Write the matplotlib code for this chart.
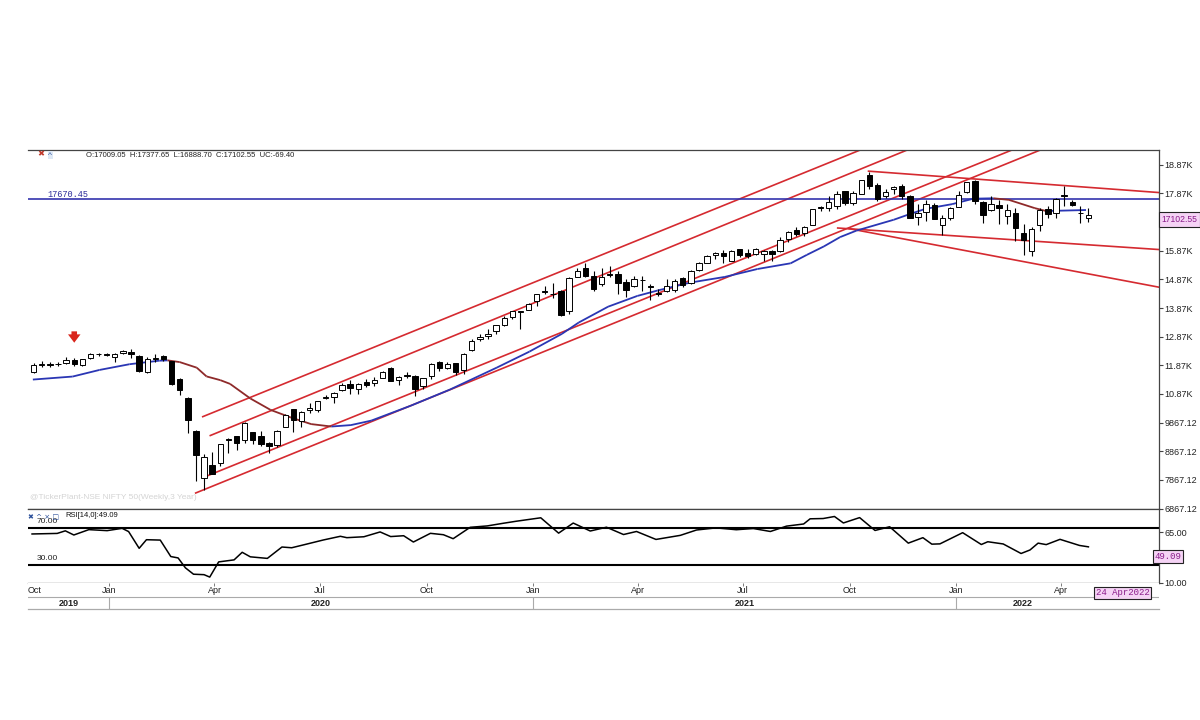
import matplotlib
matplotlib.use("Agg")
import matplotlib.pyplot as plt
import matplotlib.transforms as mtransforms
from matplotlib.collections import LineCollection
import numpy as np
import pandas as pd

plt.rcParams['font.family'] = ['Liberation Sans', 'DejaVu Sans']

# weekly NIFTY 50 candles, first bar = week of 28 Oct 2019
first_week = "2019-10-28"
opens = [11627, 11886, 11915, 11916, 11934, 12067, 11870, 12133, 12273, 12274,
         12170, 12296, 12328, 12197, 11627, 12102, 12190, 12012, 11388, 10743,
         9588, 7945, 8385, 8446, 9303, 9390, 9259, 9533, 9384, 9158,
         9100, 9726, 10326, 9919, 10318, 10311, 10723, 10766, 10999, 11225,
         11057, 11270, 11249, 11437, 11777, 11359, 11540, 11503, 11140, 11487,
         11973, 11786, 11937, 11697, 12399, 12780, 12906, 13062, 13265, 13547,
         13742, 13815, 14104, 14474, 14371, 14477, 13759, 14962, 15271, 14998,
         14702, 15064, 15067, 14794, 14637, 14837, 14644, 14402, 14449, 14481,
         14928, 14756, 15211, 15437, 15725, 15791, 15525, 15915, 15794, 15766,
         15754, 15842, 15874, 16288, 16590, 16475, 16775, 17400, 17363, 17443,
         17940, 17531, 17867, 18500, 18148, 17783, 18040, 18140, 17796, 17055,
         17209, 17474, 16773, 17000, 17388, 17913, 18309, 17575, 17301, 17456,
         17076, 17193, 16481, 15867, 16757, 17329, 17181, 17810, 17584, 17183,
         17009.05]
highs = [11945, 12034, 11973, 11974, 12159, 12120, 12098, 12294, 12287, 12311,
         12311, 12389, 12431, 12212, 12160, 12246, 12225, 12012, 11433, 10751,
         9602, 8777, 8838, 9131, 9324, 9390, 9890, 9533, 9584, 9178,
         9598, 10178, 10328, 10272, 10554, 10632, 10848, 10934, 11239, 11341,
         11256, 11374, 11460, 11686, 11794, 11493, 11618, 11535, 11428, 11939,
         12025, 11980, 11940, 12290, 12770, 12963, 13146, 13280, 13579, 13773,
         13777, 14050, 14368, 14654, 14754, 14491, 14966, 15257, 15432, 15176,
         15274, 15336, 15163, 14878, 14985, 14984, 14697, 14527, 14895, 14892,
         14966, 15190, 15470, 15733, 15835, 15901, 15903, 15915, 15915, 15962,
         15882, 15899, 16350, 16543, 16702, 16722, 17340, 17430, 17793, 17947,
         17948, 17941, 18351, 18604, 18241, 18017, 18123, 18210, 17806, 17489,
         17639, 17551, 17118, 17400, 17944, 18286, 18351, 17600, 17794, 17639,
         17491, 17351, 16815, 16694, 17345, 17442, 17703, 18115, 17651, 17414,
         17377.65]
lows = [11600, 11802, 11802, 11836, 11919, 11832, 11832, 12082, 12192, 12185,
        11974, 12278, 12130, 11634, 11614, 11990, 12012, 11175, 10827, 9508,
        7832, 7511, 8055, 8360, 8822, 8910, 9165, 9117, 9043, 8807,
        9004, 9706, 9545, 9727, 10194, 10224, 10676, 10562, 10985, 10882,
        10882, 11112, 11144, 11409, 11303, 11185, 11441, 10790, 11051, 11386,
        11661, 11741, 11535, 11557, 12368, 12730, 12790, 12963, 13241, 13500,
        13131, 13788, 13954, 14357, 14223, 13597, 13662, 14951, 14935, 14467,
        14635, 14954, 14350, 14264, 14617, 14459, 14151, 14273, 14416, 14417,
        14592, 14698, 15163, 15424, 15566, 15450, 15525, 15636, 15632, 15707,
        15514, 15514, 15834, 16162, 16395, 16395, 16764, 17254, 17269, 17327,
        17452, 17452, 17865, 18034, 17613, 17697, 17836, 17688, 17026, 16782,
        16891, 16966, 16410, 16950, 17384, 17880, 17485, 16837, 17244, 16809,
        16811, 16203, 15711, 15671, 16556, 17006, 17004, 17423, 17443, 16825,
        16888.70]
closes = [11890, 11908, 11895, 11914, 12056, 11922, 12086, 12272, 12246, 12226,
          12257, 12352, 12248, 11662, 12098, 12113, 12081, 11202, 10990, 9955,
          8745, 8660, 8084, 9112, 9267, 9154, 9860, 9252, 9137, 9040,
          9580, 10142, 9973, 10244, 10383, 10608, 10768, 10902, 11194, 11073,
          11214, 11178, 11372, 11647, 11333, 11464, 11505, 11050, 11417, 11914,
          11762, 11930, 11642, 12264, 12720, 12860, 12969, 13259, 13514, 13761,
          13749, 14018, 14347, 14434, 14372, 13635, 14924, 15163, 14982, 14529,
          14938, 15031, 14744, 14507, 14867, 14835, 14617, 14341, 14631, 14823,
          14678, 15175, 15436, 15670, 15799, 15683, 15860, 15722, 15690, 15924,
          15856, 15763, 16238, 16529, 16451, 16705, 17324, 17369, 17585, 17853,
          17532, 17895, 18338, 18115, 17672, 17917, 18103, 17765, 17026, 17197,
          17511, 16985, 17004, 17354, 17813, 18256, 17617, 17102, 17516, 17375,
          17276, 16658, 16245, 16630, 17287, 17153, 17670.45, 17784, 17476, 17171.95,
          17102.55]

# moving average (week index, value)
ma_week = [-0.1, 4.8, 8.1, 11.8, 15.5, 16.5, 18.0, 20.1, 21.3, 23.0, 24.2, 26.7,
           29.2, 31.7, 34.2, 36.7, 39.1, 41.6, 46.5, 51.3, 57.1, 61.1, 65.1, 67.2,
           70.8, 74.4, 76.9, 80.9, 85.2, 89.2, 93.3, 95.3, 97.4, 99.4, 101.4, 106.0,
           107.9, 109.9, 113.2, 115.8, 118.3, 120.2, 123.4, 124.8, 129.7]
ma_value = [11370, 11475, 11705, 11905, 12030, 12040, 11980, 11785, 11480, 11350, 11220, 10710,
            10310, 10045, 9815, 9730, 9780, 9935, 10460, 11020, 11790, 12345, 12965, 13365,
            13915, 14290, 14480, 14755, 14955, 15230, 15430, 15725, 16020, 16345, 16570, 16950,
            17140, 17330, 17495, 17685, 17700, 17645, 17355, 17255, 17290]

# RSI(14)
rsi_week = [-0.2, 2.9, 3.9, 4.95, 6.8, 9.05, 10.9, 11.7, 13.0, 13.9, 15.6, 16.9, 17.8,
            18.7, 19.7, 21.0, 21.7, 22.8, 24.7, 25.7, 26.7, 28.8, 30.6, 31.8, 33.3,
            35.7, 37.8, 38.6, 40.7, 42.7, 44.0, 45.6, 46.8, 48.9, 50.5, 51.7, 53.8,
            55.9, 57.9, 59.5, 62.5, 64.7, 66.5, 68.6, 70.6, 72.7, 74.3, 76.7, 79.7,
            81.7, 84.1, 86.6, 88.7, 90.8, 92.8, 94.9, 95.7, 97.3, 98.7, 99.8, 101.8,
            103.7, 105.5, 107.8, 109.6, 110.7, 111.7, 114.5, 116.8, 117.6, 119.5,
            121.7, 122.8, 123.8, 124.8, 126.5, 128.9, 130.0]
rsi_value = [63.0, 63.6, 66.4, 61.9, 67.7, 66.6, 69.1, 65.6, 47.5, 56.8, 56.4, 38.6, 37.1,
             26.4, 19.5, 19.0, 16.4, 32.8, 35.0, 43.2, 38.3, 36.6, 48.9, 48.1, 51.3,
             56.5, 60.5, 59.0, 60.0, 65.2, 60.2, 61.1, 54.3, 63.7, 62.2, 57.9, 70.2,
             71.7, 74.6, 76.8, 80.5, 63.9, 74.8, 66.2, 70.3, 62.4, 65.7, 57.1, 61.5,
             67.3, 69.6, 67.6, 68.9, 65.7, 71.5, 73.8, 79.4, 79.7, 81.9, 74.9, 80.7,
             66.8, 70.8, 53.1, 59.0, 52.0, 52.3, 64.4, 51.6, 54.6, 52.2,
             41.9, 45.7, 53.1, 51.5, 57.2, 50.6, 49.09]

# red trend lines: start week, start price, end week, end price
trend_x0 = [20.84, 21.77, 21.15, 19.97, 102.9, 99.1, 100.5]
trend_y0 = [10074, 9416, 7979, 7409, 18647, 16662, 16640]
trend_x1 = [102.0, 108.0, 120.7, 124.2, 138.7, 138.7, 138.7]
trend_y1 = [19400, 19425, 19400, 19400, 17900, 15910, 14595]

level = 17670.45
rsi_levels = [70, 30]
price_ticks = [6867.12 + 1000 * k for k in range(13)]

weeks = np.arange(len(closes))
o = np.array(opens, float)
c = np.array(closes, float)
up = c >= o
mono = ['Liberation Mono', 'DejaVu Sans Mono']

fig = plt.figure(figsize=(12, 7.2), dpi=100)
fig.patch.set_facecolor("white")
L, R = 28 / 1200, 1159 / 1200
ax = fig.add_axes([L, 1 - 509 / 720, R - L, (509 - 150) / 720])
rax = fig.add_axes([L, 1 - 583 / 720, R - L, (583 - 509) / 720])
tax = fig.add_axes([L, 1 - 609 / 720, R - L, (609 - 583) / 720])
xlim = (-0.7, 138.7)
for a in (ax, rax, tax):
    a.set_xlim(*xlim)
    a.set_xticks([])
    a.spines['left'].set_visible(False)
    for s in ('top', 'right', 'bottom'):
        a.spines[s].set_color('#444')
        a.spines[s].set_linewidth(0.9)

# --- price panel
ax.set_ylim(6850, 19386)
ax.vlines(weeks, lows, highs, color='black', lw=0.8, zorder=4)
ax.bar(weeks, np.abs(c - o), bottom=np.minimum(o, c), width=0.66,
       color=np.where(up, 'white', 'black'), edgecolor='black', lw=0.7, zorder=5)

for x0, y0, x1, y1 in zip(trend_x0, trend_y0, trend_x1, trend_y1):
    ax.plot([x0, x1], [y0, y1], color='#d52a30', lw=1.2, zorder=2)

ax.axhline(level, color='#3434ae', lw=1.2, zorder=2)
ax.text(1.7, level, f"{level:.2f}", color='#2d2d9a', fontsize=6.2, family=mono, va='bottom')

pts = np.column_stack([ma_week, ma_value]).reshape(-1, 1, 2)
segs = np.concatenate([pts[:-1], pts[1:]], axis=1)
ma_cols = ['#2a36b4' if b >= a else '#8e2a2a' for a, b in zip(ma_value[:-1], ma_value[1:])]
ax.add_collection(LineCollection(segs, colors=ma_cols, linewidth=1.3, zorder=3))

ax.annotate('', xy=(5, 12560), xytext=(5, 13150),
            arrowprops=dict(arrowstyle='simple,head_length=0.6,head_width=0.9,tail_width=0.4',
                            fc='#d9261c', ec='none', mutation_scale=10))

# the 16.87K label sits under the last-close box, as on the original
tick_labels = [f"{v:.2f}" if v < 10000 else f"{v / 1000:.2f}K" for v in price_ticks]
tick_labels[10] = ''
ax.yaxis.tick_right()
ax.set_yticks(price_ticks)
ax.set_yticklabels(tick_labels)
ax.tick_params(axis='y', labelsize=6.5, length=3, color='#444', labelcolor='#222', pad=1)

hdr = (f"O:{opens[-1]:.2f}  H:{highs[-1]:.2f}  L:{lows[-1]:.2f}  "
       f"C:{closes[-1]:.2f}  UC:{closes[-1] - closes[-2]:.2f}")
ax.text(0.051, 0.986, hdr, transform=ax.transAxes, fontsize=5.5, va='center', color='#222')
ax.text(0.008, 0.986, '✖', transform=ax.transAxes, fontsize=6, va='center', color='#c0392b')
ax.text(0.018, 0.986, '^', transform=ax.transAxes, fontsize=6, va='center', color='#2a4f9a',
        bbox=dict(boxstyle='square,pad=0.1', fc='#dde8f5', ec='none'))
ax.text(0.002, 0.033, '@TickerPlant-NSE NIFTY 50(Weekly,3 Year)', transform=ax.transAxes,
        fontsize=6, color='#d4d4d4', va='center')

bt = mtransforms.blended_transform_factory(ax.transAxes, ax.transData)
ax.annotate(f"{closes[-1]:.2f}", xy=(1.002, closes[-1]), xycoords=bt,
            xytext=(0, -3), textcoords='offset points', fontsize=6.2, va='center',
            color='#8a1c8a', annotation_clip=False, zorder=10,
            bbox=dict(boxstyle='square,pad=0.3', fc='#f5d3f5', ec='#222', lw=0.8))

# --- RSI panel
rax.set_ylim(10, 90)
rax.plot(rsi_week, rsi_value, color='black', lw=1.1, zorder=3)
rlt = mtransforms.blended_transform_factory(rax.transAxes, rax.transData)
for lv in rsi_levels:
    rax.axhline(lv, color='black', lw=1.5, zorder=2)
    rax.text(0.008, lv + 2.5, f"{lv:.2f}", transform=rlt, fontsize=6, va='bottom', color='#222')
rax.yaxis.tick_right()
rax.set_yticks([65, 10])
rax.set_yticklabels(['65.00', '10.00'])
rax.tick_params(axis='y', labelsize=6.5, length=3, color='#444', labelcolor='#222', pad=1)
rax.text(0.033, 0.91, f"RSI[14,0]:{rsi_value[-1]:.2f}", transform=rax.transAxes,
         fontsize=5.5, va='center', color='#111')
rax.text(0.0, 0.91, '✖ ^ × □', transform=rax.transAxes, fontsize=5, va='center',
         color='#2a4f9a', family=['DejaVu Sans'])
rax.annotate(f"{rsi_value[-1]:.2f}", xy=(0.996, rsi_value[-1]), xycoords=rlt,
             xytext=(0, -7), textcoords='offset points', fontsize=6.5, va='center',
             family=mono, color='#8a1c8a', zorder=10,
             bbox=dict(boxstyle='square,pad=0.2', fc='#f5d3f5', ec='#222', lw=0.8))

# --- time axis
tax.set_ylim(0, 1)
tax.set_yticks([])
tax.spines['top'].set_visible(False)
tax.spines['right'].set_visible(False)
tax.spines['bottom'].set_color('#aaaaaa')
start = pd.Timestamp(first_week)
month_starts = pd.date_range("2020-01-01", "2022-04-01", freq="QS")
month_pos = (month_starts - start).days / 7
for p, lab in zip(month_pos, month_starts.strftime('%b')):
    tax.text(p, 0.73, lab, ha='center', va='center', fontsize=6.5, color='#222')
tax.vlines(month_pos, 0.88, 1.0, color='#666', lw=0.6)
tax.text(xlim[0], 0.73, 'Oct', ha='left', va='center', fontsize=6.5, color='#222')
tax.axhline(0.46, color='#aaaaaa', lw=0.8)
jan_pos = [(pd.Timestamp(f"{y}-01-01") - start).days / 7 for y in (2020, 2021, 2022)]
tax.vlines(jan_pos, 0, 0.46, color='#aaaaaa', lw=0.8)
edges = [xlim[0]] + jan_pos + [weeks[-1]]
for yr, a, b in zip(['2019', '2020', '2021', '2022'], edges[:-1], edges[1:]):
    tax.text((a + b) / 2, 0.23, yr, ha='center', va='center', fontsize=6.5,
             fontweight='bold', color='#222')
tax.text(130.9, 0.62, '24 Apr2022', ha='left', va='center', fontsize=6.5,
         family=mono, color='#8a1c8a', clip_on=False,
         bbox=dict(boxstyle='square,pad=0.2', fc='#f5d3f5', ec='#222', lw=0.8))

fig.savefig("out.png", dpi=100, facecolor="white")
